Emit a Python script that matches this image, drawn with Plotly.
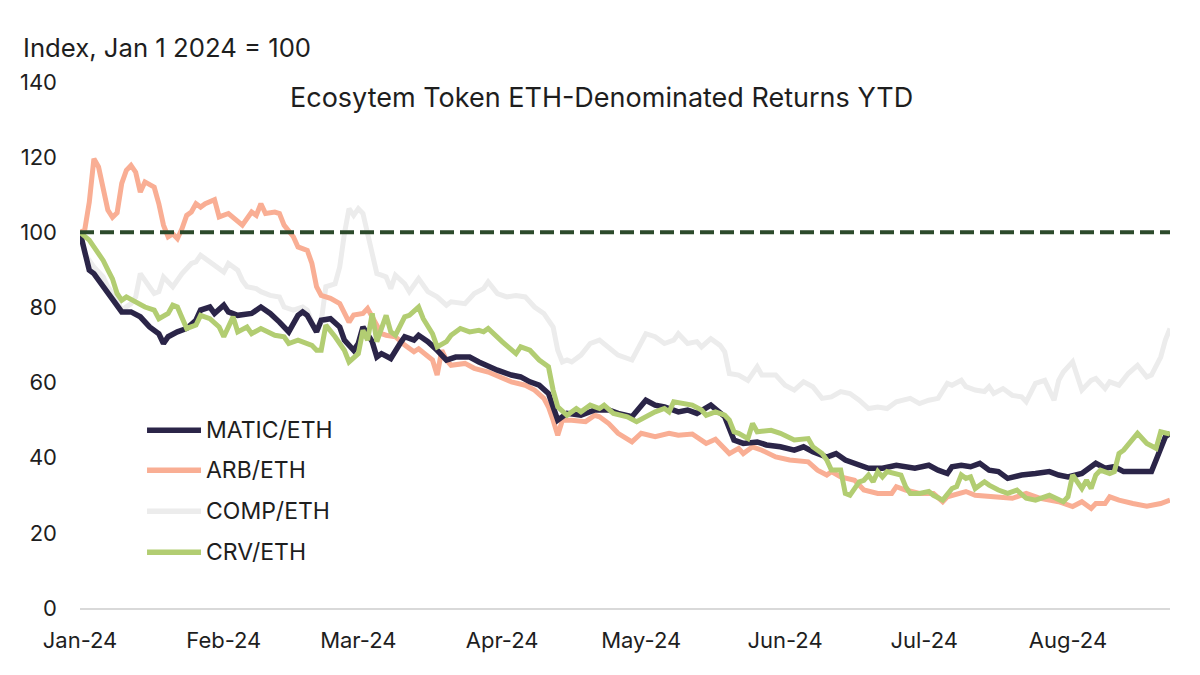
import pandas as pd
import plotly.graph_objects as go

START = "2024-01-01"

# Day offsets from Jan 1 2024 and index values (Jan 1 2024 = 100)
matic_days = [0, 1, 2, 3, 4, 5, 6, 8, 9, 11, 13, 15, 17, 18, 19, 21, 23, 25, 26, 28, 29, 31, 32, 34, 36, 37, 39, 41, 43, 45, 47, 48, 49, 51, 52, 54, 56, 57, 59, 60, 61, 63, 64, 65, 67, 68, 69, 70, 72, 73, 75, 77, 79, 81, 84, 86, 88, 90, 93, 95, 97, 99, 101, 102, 103, 105, 108, 111, 114, 116, 119, 122, 124, 126, 129, 131, 133, 136, 138, 139, 141, 143, 146, 148, 151, 154, 156, 158, 161, 163, 165, 167, 170, 173, 176, 180, 183, 185, 187, 188, 190, 192, 194, 196, 198, 200, 203, 206, 209, 211, 213, 216, 218, 219, 221, 223, 225, 227, 229, 231, 232, 234, 235]
matic_vals = [100, 94.3, 89.9, 89, 87.2, 85.5, 83.7, 80.1, 78.8, 78.8, 77.5, 74.8, 73, 70.4, 72.2, 73.5, 74.4, 76.6, 79.3, 80.1, 78.4, 80.6, 78.8, 77.9, 78.4, 78.4, 80.1, 78.4, 76.1, 73.5, 77.9, 78.8, 77.9, 73.5, 76.6, 77, 74.8, 71.3, 68.6, 70.4, 74.8, 70.9, 66.8, 67.7, 66.4, 68.6, 70.4, 72.2, 71.3, 72.6, 70.9, 68.6, 66, 66.8, 66.8, 65.5, 64.2, 63.3, 62, 61.5, 60.2, 59.3, 57.1, 53.5, 50, 51.8, 51.3, 52.7, 52.7, 51.8, 50.9, 55.3, 54, 53.5, 52.2, 52.7, 51.8, 54, 52.2, 50.9, 44.7, 43.8, 44.2, 43.4, 42.9, 42, 42.9, 41.6, 40.2, 41.1, 39.4, 38.5, 37.2, 37.2, 38, 37.2, 38, 36.7, 35.8, 37.6, 38, 37.6, 38.5, 36.7, 36.3, 34.5, 35.4, 35.8, 36.3, 35.4, 34.9, 35.8, 37.6, 38.5, 37.2, 37.6, 36.3, 36.3, 36, 36.3, 39.4, 45.6, 46.5]

arb_days = [0, 1, 2, 3, 4, 6, 7, 8, 9, 10, 11, 12, 13, 14, 16, 17, 18, 19, 20, 21, 22, 23, 24, 25, 26, 27, 29, 30, 32, 33, 35, 37, 38, 39, 40, 42, 43, 44, 46, 47, 49, 50, 51, 52, 54, 56, 57, 58, 59, 61, 62, 63, 65, 66, 68, 70, 72, 73, 75, 76, 77, 78, 79, 80, 83, 85, 88, 91, 93, 96, 98, 100, 101, 102, 103, 104, 106, 109, 111, 112, 114, 116, 119, 121, 124, 127, 129, 132, 135, 137, 140, 142, 143, 145, 147, 150, 153, 157, 159, 161, 162, 164, 167, 169, 172, 175, 176, 178, 181, 184, 186, 187, 191, 193, 196, 199, 201, 204, 207, 211, 213, 214, 216, 218, 219, 221, 222, 224, 227, 230, 233, 235]
arb_vals = [100, 100.5, 108, 119.6, 117.4, 105.9, 104, 105.2, 113, 116.5, 117.8, 116, 110.7, 113.4, 112, 107.6, 101.9, 98.8, 99.6, 98.3, 101, 104.5, 105.4, 107.6, 106.7, 107.6, 108.7, 104.1, 105, 104.1, 101.9, 105.4, 104.5, 107.6, 105, 105.4, 105, 101.9, 98.8, 96.1, 95.2, 91.7, 85.5, 83.2, 82.4, 81, 78.4, 76.1, 78, 78.4, 79.7, 77.5, 73, 72.6, 72.2, 70, 68.2, 69, 66.8, 66, 62, 68.6, 66, 64.6, 65.1, 63.8, 62.8, 61.1, 60.2, 59.3, 58, 55.8, 53.5, 50, 46, 50, 50, 49.6, 51.3, 50.9, 49.1, 46.5, 44.2, 46.5, 45.6, 46.5, 46, 46.3, 43.8, 44.9, 41.1, 42.5, 41.1, 42.9, 42, 40.2, 39.4, 38.9, 36.7, 35.4, 36.3, 34.9, 34, 31.4, 30.5, 30.5, 32.3, 31.4, 30.5, 30.5, 28.3, 29.6, 31, 30, 29.6, 29.2, 29.2, 30.5, 29.2, 28.3, 27.4, 27, 28.3, 26.5, 27.8, 27.8, 29.6, 28.7, 27.8, 27.1, 27.8, 28.7]

comp_days = [0, 1, 3, 5, 6, 8, 9, 11, 12, 13, 14, 16, 17, 18, 20, 21, 22, 24, 25, 26, 28, 29, 31, 32, 34, 35, 36, 38, 39, 41, 43, 44, 46, 48, 49, 50, 51, 52, 53, 55, 56, 57, 58, 59, 60, 61, 62, 64, 65, 66, 67, 68, 70, 71, 73, 75, 77, 79, 80, 83, 85, 87, 88, 90, 92, 94, 96, 98, 100, 101, 102, 103, 104, 105, 106, 108, 110, 112, 114, 116, 119, 121, 122, 124, 126, 128, 129, 131, 133, 134, 136, 138, 139, 140, 142, 144, 146, 147, 150, 152, 154, 156, 158, 160, 162, 164, 166, 168, 170, 172, 174, 176, 179, 181, 183, 185, 187, 188, 190, 191, 193, 195, 196, 197, 199, 201, 203, 204, 205, 206, 208, 210, 211, 212, 214, 215, 216, 218, 219, 221, 222, 224, 226, 228, 230, 231, 233, 234, 235]
comp_vals = [100, 94.3, 90.8, 88.1, 85.5, 81.9, 79.3, 81, 82.8, 89, 87.2, 83.7, 84.2, 88.1, 85.5, 87.2, 89, 91.7, 92.1, 93.9, 92.1, 90.8, 89.4, 91.7, 89.9, 87.2, 85.5, 85, 84.2, 83.2, 82.8, 80.1, 79.3, 80.1, 79.3, 76.1, 73.5, 76.1, 85.5, 86.3, 90.8, 99.6, 106.3, 104.5, 106.3, 105, 99.6, 89, 88.6, 88.1, 85, 88.6, 86.3, 84.2, 87.7, 84.2, 82.8, 80.6, 81.5, 81, 83.7, 85, 86.8, 83.7, 82.8, 83.2, 82.8, 80.1, 78.4, 76.6, 74.8, 68.6, 65.5, 66, 65.5, 67.3, 70.4, 71.3, 69.5, 67.3, 66, 70.4, 73, 72.2, 70.4, 71.3, 73, 70.4, 70.9, 69.5, 71.7, 69.9, 68.2, 62.4, 62, 60.6, 64.2, 62, 62, 59.3, 58, 60.2, 58.9, 55.8, 56.2, 57.6, 57.1, 55.3, 53.1, 53.5, 53.1, 54.9, 55.8, 54.4, 55.3, 55.8, 59.8, 59.3, 60.6, 58.9, 58, 57.6, 58.9, 57.1, 58.4, 56.6, 56.2, 54.9, 57.1, 59.8, 60.6, 55.3, 60.6, 62.8, 65.5, 61.5, 58, 60.6, 61.1, 58.4, 60.2, 59.3, 62.4, 64.6, 61.5, 62, 66.8, 71.3, 74.4]

crv_days = [0, 2, 3, 4, 5, 6, 7, 8, 9, 10, 12, 14, 16, 17, 19, 20, 21, 23, 25, 26, 28, 30, 31, 33, 34, 36, 37, 38, 39, 42, 44, 45, 47, 50, 51, 52, 53, 55, 57, 58, 60, 61, 62, 63, 64, 66, 67, 68, 69, 70, 71, 73, 74, 76, 77, 79, 80, 82, 84, 86, 87, 88, 91, 93, 94, 95, 97, 99, 101, 102, 103, 105, 107, 108, 110, 112, 113, 115, 118, 120, 122, 124, 126, 127, 128, 130, 132, 134, 135, 137, 139, 140, 141, 142, 144, 145, 146, 149, 151, 154, 157, 158, 160, 161, 162, 164, 165, 166, 168, 169, 170, 171, 172, 173, 174, 177, 178, 179, 181, 183, 184, 186, 188, 189, 190, 191, 192, 193, 195, 196, 198, 200, 202, 204, 206, 209, 212, 213, 214, 216, 217, 218, 219, 220, 222, 223, 224, 225, 227, 228, 230, 232, 233, 234, 235]
crv_vals = [100, 97.9, 96.1, 94.3, 92.5, 90, 87.6, 83.7, 81.9, 82.8, 81.5, 80.1, 79.3, 77, 78.4, 80.6, 80.1, 74.4, 75.3, 77.9, 77, 74.8, 72.2, 77.5, 73.5, 74.8, 73, 73.9, 74.4, 72.6, 72.2, 70.4, 71.3, 69.9, 68.6, 68.6, 75.3, 72.2, 68.6, 65.5, 67.7, 73.9, 71.3, 78.4, 70.9, 77.9, 73.5, 72.6, 75.3, 77.5, 77.9, 80.1, 77, 73, 69.5, 70.9, 72.6, 74.4, 73.5, 73.9, 73.5, 74.4, 70.9, 69, 67.7, 69.5, 68.6, 66, 64.2, 58, 53.5, 51.3, 53.1, 52.2, 54, 53.1, 54, 51.8, 50.9, 49.6, 50.9, 52.2, 53.1, 52.2, 54.9, 54.4, 54, 52.7, 51.3, 52.2, 51.3, 50, 46.9, 46.5, 45.1, 49.1, 46.9, 47.3, 46.5, 44.7, 45.1, 42.9, 41.1, 39.4, 36.7, 36.7, 30.5, 30, 33.6, 34, 35.4, 33.6, 36.3, 34.9, 36.3, 35.4, 32.3, 30.5, 30.5, 31, 30, 28.7, 31.8, 32.3, 35.4, 34.5, 34.9, 31.8, 33.6, 32.7, 31.4, 30.5, 31.4, 29.2, 28.7, 30, 28.3, 29.6, 35.4, 31.8, 34, 31.8, 35.4, 36.7, 35.8, 36.3, 41.1, 42, 45.1, 46.5, 43.8, 42.5, 46.9, 46.5, 46.3]

BASELINE = 100
END_DAY = 235

series_names = ["MATIC/ETH", "ARB/ETH", "COMP/ETH", "CRV/ETH"]
tick_labels = ["Jan-24", "Feb-24", "Mar-24", "Apr-24", "May-24", "Jun-24", "Jul-24", "Aug-24"]
tick_dates = ["2024-01-01", "2024-02-01", "2024-03-01", "2024-04-01", "2024-05-01", "2024-06-01", "2024-07-01", "2024-08-01"]


def to_dates(days):
    return pd.Timestamp(START) + pd.to_timedelta(days, unit="D")


series = {
    "MATIC/ETH": (matic_days, matic_vals, "#2b2548", 5.5),
    "ARB/ETH": (arb_days, arb_vals, "#f9ae94", 5),
    "COMP/ETH": (comp_days, comp_vals, "#ececec", 5),
    "CRV/ETH": (crv_days, crv_vals, "#b2cd72", 5),
}
draw_order = ["COMP/ETH", "ARB/ETH", "MATIC/ETH", "CRV/ETH"]

FONT = "Inter"
TXT = "#1e1e1e"
fig = go.Figure()
for name in draw_order:
    d, v, col, w = series[name]
    fig.add_trace(go.Scatter(
        x=to_dates(d), y=v, mode="lines", name=name,
        line=dict(color=col, width=w), showlegend=False,
    ))

end_date = to_dates([END_DAY])[0]
fig.add_trace(go.Scatter(
    x=[pd.Timestamp(START), end_date], y=[BASELINE, BASELINE], mode="lines",
    line=dict(color="#2c4a2b", width=4, dash="14px,6px"), showlegend=False,
    hoverinfo="skip",
))

# Hand-drawn legend (long line swatches like the reference)
legend_y = [0.338, 0.262, 0.184, 0.106]
shapes = []
annots = []
for name, ly in zip(series_names, legend_y):
    col = series[name][2]
    shapes.append(dict(type="line", xref="paper", yref="paper",
                       x0=0.0615, x1=0.111, y0=ly, y1=ly,
                       line=dict(color=col, width=5.5)))
    annots.append(dict(text=name, xref="paper", yref="paper", x=0.1135, y=ly,
                       xanchor="left", yanchor="middle", showarrow=False,
                       font=dict(size=23, family=FONT, color=TXT)))

annots += [
    dict(text="Index, Jan 1 2024 = 100", xref="paper", yref="paper",
         x=-0.0545, y=1.0665, xanchor="left", yanchor="middle", showarrow=False,
         font=dict(size=25.7, family=FONT, color=TXT)),
    dict(text="Ecosytem Token ETH-Denominated Returns YTD", xref="paper", yref="paper",
         x=0.478, y=0.9696, xanchor="center", yanchor="middle", showarrow=False,
         font=dict(size=27, family=FONT, color=TXT)),
]

fig.update_layout(
    width=1200, height=675,
    paper_bgcolor="white", plot_bgcolor="white",
    margin=dict(l=72, r=38, t=74, b=75),
    font=dict(family=FONT, color=TXT, size=22),
    showlegend=False,
    shapes=shapes,
    annotations=annots,
    xaxis=dict(
        range=[pd.Timestamp(START), end_date],
        tickvals=pd.to_datetime(tick_dates), ticktext=tick_labels,
        showgrid=False, zeroline=False,
        showline=True, linecolor="#d9d9d9", linewidth=2,
        ticks="", ticklabelstandoff=12,
        tickfont=dict(size=22, family=FONT, color=TXT),
    ),
    yaxis=dict(
        range=[0, 140], tickvals=[0, 20, 40, 60, 80, 100, 120, 140],
        showgrid=False, zeroline=False, showline=False,
        ticks="", ticklabelstandoff=22,
        tickfont=dict(size=22, family=FONT, color=TXT),
    ),
)

fig.write_html("out.html")
